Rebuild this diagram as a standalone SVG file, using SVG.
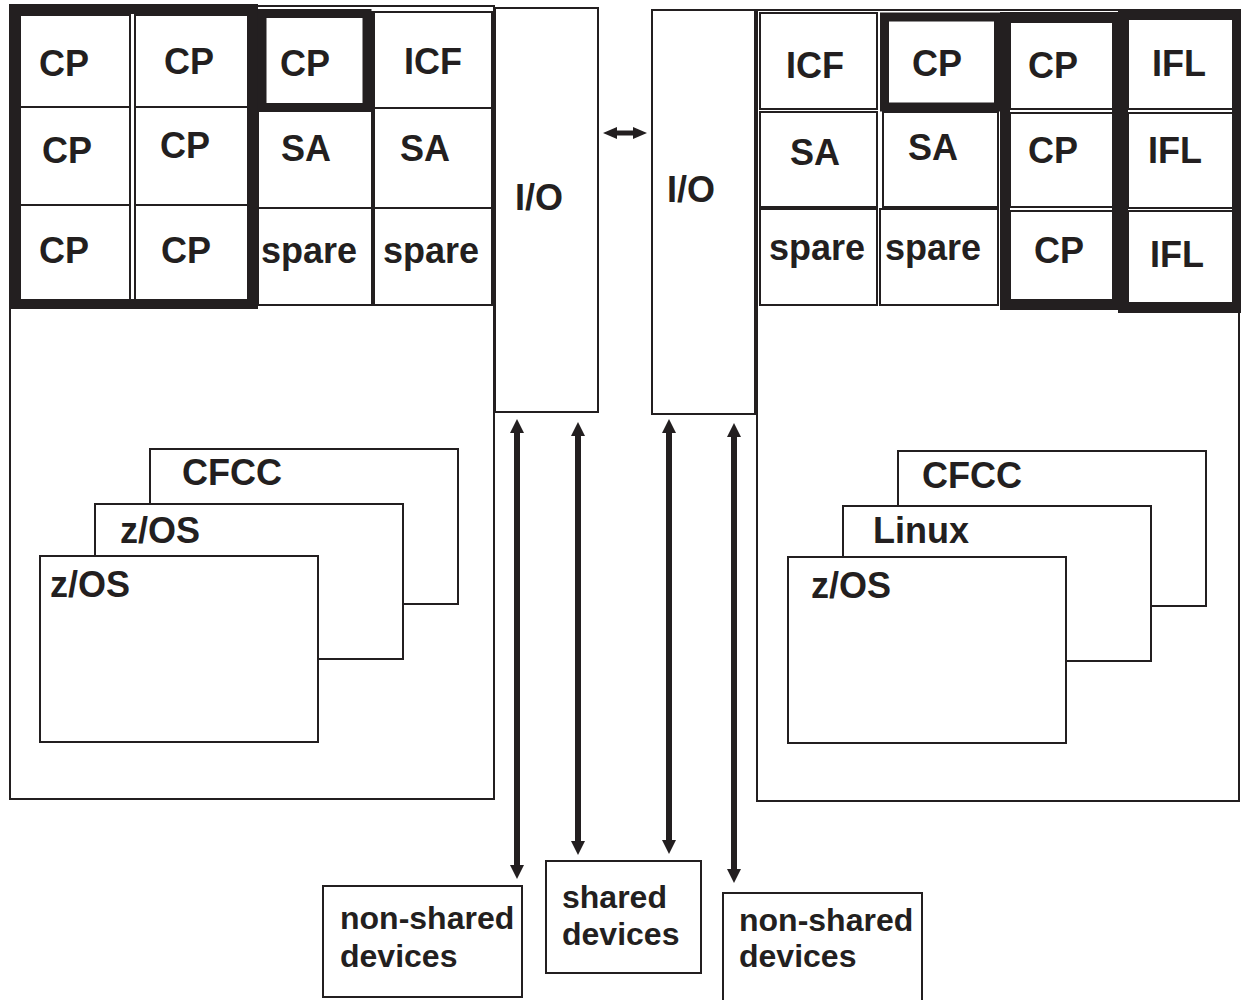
<svg xmlns="http://www.w3.org/2000/svg" width="1241" height="1000" viewBox="0 0 1241 1000">
<style>
.bx{fill:#fff;stroke:#231f20;stroke-width:2}
.th{fill:none;stroke:#231f20}
.t{font-family:"Liberation Sans",Arial,sans-serif;font-weight:bold;font-size:36px;fill:#231f20}
.m{text-anchor:middle}
.d{font-family:"Liberation Sans",Arial,sans-serif;font-weight:bold;font-size:32px;fill:#231f20}
.ar{stroke:#231f20;stroke-width:6;fill:none}
.ah{stroke:#231f20;stroke-width:5;fill:none}
</style>
<defs>
<marker id="head" viewBox="0 0 14 14" refX="0" refY="7" markerWidth="14" markerHeight="14" markerUnits="userSpaceOnUse" orient="auto-start-reverse"><path d="M0,0 L14,7 L0,14 z" fill="#231f20"/></marker>
<marker id="headS" viewBox="0 0 14 12" refX="0" refY="6" markerWidth="14" markerHeight="12" markerUnits="userSpaceOnUse" orient="auto-start-reverse"><path d="M0,0 L14,6 L0,12 z" fill="#231f20"/></marker>
</defs>
<rect width="1241" height="1000" fill="#fff"/>

<g id="system-left">
<rect class="bx" x="10" y="6" width="484" height="793"/>
</g>
<g id="system-right">
<rect class="bx" x="757" y="10" width="482" height="791"/>
</g>

<g id="left-grid">
<rect class="bx" x="20" y="15" width="110" height="92"/>
<rect class="bx" x="135" y="15" width="113" height="92"/>
<rect class="bx" x="20" y="107" width="110" height="98"/>
<rect class="bx" x="135" y="107" width="113" height="98"/>
<rect class="bx" x="20" y="205" width="110" height="97"/>
<rect class="bx" x="135" y="205" width="113" height="97"/>
<rect class="bx" x="258" y="12" width="114" height="96"/>
<rect class="bx" x="374" y="12" width="118" height="96"/>
<rect class="bx" x="258" y="108" width="114" height="100"/>
<rect class="bx" x="374" y="108" width="118" height="100"/>
<rect class="bx" x="258" y="208" width="114" height="97"/>
<rect class="bx" x="374" y="208" width="118" height="97"/>
<rect class="th" x="14" y="9" width="239" height="295" stroke-width="10"/>
<rect class="th" x="262" y="13.5" width="105" height="94" stroke-width="9"/>
<text class="t m" x="64" y="76">CP</text>
<text class="t m" x="189" y="74">CP</text>
<text class="t m" x="305" y="76">CP</text>
<text class="t m" x="433" y="74">ICF</text>
<text class="t m" x="67" y="163">CP</text>
<text class="t m" x="185" y="158">CP</text>
<text class="t m" x="306" y="161">SA</text>
<text class="t m" x="425" y="161">SA</text>
<text class="t m" x="64" y="263">CP</text>
<text class="t m" x="186" y="263">CP</text>
<text class="t m" x="309" y="263">spare</text>
<text class="t m" x="431" y="263">spare</text>
</g>

<g id="right-grid">
<rect class="bx" x="760" y="13" width="117" height="96"/>
<rect class="bx" x="760" y="112" width="117" height="95"/>
<rect class="bx" x="883" y="112" width="115" height="95"/>
<rect class="bx" x="760" y="209" width="117" height="96"/>
<rect class="bx" x="880" y="209" width="118" height="96"/>
<rect class="bx" x="1010" y="22" width="104" height="87"/>
<rect class="bx" x="1010" y="113" width="104" height="94"/>
<rect class="bx" x="1010" y="211" width="104" height="89"/>
<rect class="bx" x="1128" y="19" width="106" height="90"/>
<rect class="bx" x="1128" y="113" width="106" height="95"/>
<rect class="bx" x="1128" y="211" width="106" height="92"/>
<rect class="th" x="884.5" y="17" width="114" height="90" stroke-width="9"/>
<rect class="th" x="1005" y="17" width="112" height="288" stroke-width="10"/>
<rect class="th" x="1123" y="14" width="114" height="294" stroke-width="10"/>
<text class="t m" x="815" y="78">ICF</text>
<text class="t m" x="937" y="76">CP</text>
<text class="t m" x="1053" y="78">CP</text>
<text class="t m" x="1179" y="76">IFL</text>
<text class="t m" x="815" y="165">SA</text>
<text class="t m" x="933" y="160">SA</text>
<text class="t m" x="1053" y="163">CP</text>
<text class="t m" x="1175" y="163">IFL</text>
<text class="t m" x="817" y="260">spare</text>
<text class="t m" x="933" y="260">spare</text>
<text class="t m" x="1059" y="263">CP</text>
<text class="t m" x="1177" y="267">IFL</text>
</g>

<g id="io-left">
<rect class="bx" x="495" y="8" width="103" height="404"/>
<text class="t m" x="539" y="210">I/O</text>
</g>
<g id="io-right">
<rect class="bx" x="652" y="10" width="103" height="404"/>
<text class="t m" x="691" y="202">I/O</text>
</g>

<g id="left-cfcc">
<rect class="bx" x="150" y="449" width="308" height="155"/>
<text class="t" x="182" y="485">CFCC</text>
</g>
<g id="left-zos-back">
<rect class="bx" x="95" y="504" width="308" height="155"/>
<text class="t" x="120" y="543">z/OS</text>
</g>
<g id="left-zos-front">
<rect class="bx" x="40" y="556" width="278" height="186"/>
<text class="t" x="50" y="597">z/OS</text>
</g>

<g id="right-cfcc">
<rect class="bx" x="898" y="451" width="308" height="155"/>
<text class="t" x="922" y="488">CFCC</text>
</g>
<g id="right-linux">
<rect class="bx" x="843" y="506" width="308" height="155"/>
<text class="t" x="873" y="543">Linux</text>
</g>
<g id="right-zos">
<rect class="bx" x="788" y="557" width="278" height="186"/>
<text class="t" x="811" y="598">z/OS</text>
</g>

<g id="nonshared-left">
<rect class="bx" x="323" y="886" width="199" height="111"/>
<text class="d" x="340" y="929">non-shared</text>
<text class="d" x="340" y="967">devices</text>
</g>
<g id="shared">
<rect class="bx" x="546" y="861" width="155" height="112"/>
<text class="d" x="562" y="908">shared</text>
<text class="d" x="562" y="945">devices</text>
</g>
<g id="nonshared-right">
<rect class="bx" x="723" y="893" width="199" height="115"/>
<text class="d" x="739" y="931">non-shared</text>
<text class="d" x="739" y="967">devices</text>
</g>

<g id="connectors">
<line class="ah" x1="617" y1="133" x2="633" y2="133" marker-start="url(#headS)" marker-end="url(#headS)"/>
<line class="ar" x1="517" y1="433" x2="517" y2="865" marker-start="url(#head)" marker-end="url(#head)"/>
<line class="ar" x1="578" y1="436" x2="578" y2="841" marker-start="url(#head)" marker-end="url(#head)"/>
<line class="ar" x1="669" y1="433" x2="669" y2="840" marker-start="url(#head)" marker-end="url(#head)"/>
<line class="ar" x1="734" y1="437" x2="734" y2="869" marker-start="url(#head)" marker-end="url(#head)"/>
</g>
</svg>
